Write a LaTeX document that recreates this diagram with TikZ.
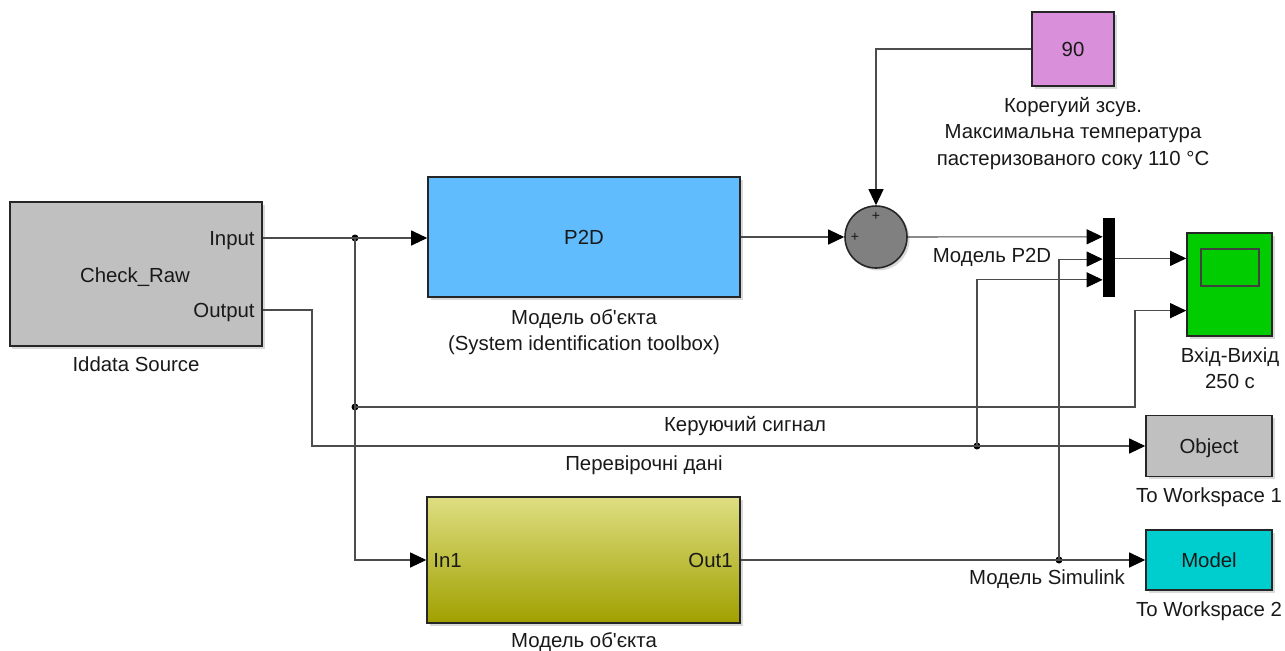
\documentclass[tikz,border=0pt]{standalone}
\usepackage{fontspec}
\setmainfont{Liberation Sans}
\usetikzlibrary{arrows.meta,shadows,calc}
\definecolor{srcgray}{RGB}{192,192,192}
\definecolor{p2dblue}{RGB}{96,188,252}
\definecolor{sumgray}{RGB}{128,128,128}
\definecolor{constpink}{RGB}{218,143,218}
\definecolor{scopegreen}{RGB}{0,204,0}
\definecolor{modelcyan}{RGB}{0,206,206}
\definecolor{subtop}{RGB}{222,222,130}
\definecolor{subbottom}{RGB}{160,160,0}
\begin{document}
\begin{tikzpicture}[%
  x=0.2mm, y=-0.2mm,
  font=\fontsize{11.6}{14.8}\selectfont,
  blockstyle/.style={%
    rectangle,
    draw=black!85,
    line width=0.9pt,
    inner sep=0pt,
    drop shadow={shadow xshift=0.5mm, shadow yshift=-0.5mm, opacity=0.3},
  },
  textstyle/.style={inner sep=0pt, text=black!90},
  linestyle/.style={draw=black!70, line width=0.6pt},
  arrowstyle/.style={linestyle, -{Triangle[length=3.2mm, width=3mm, color=black]}},
  dotstyle/.style={circle, fill=black, inner sep=0pt, minimum size=1.4mm},
]
  \useasboundingbox (0,0) rectangle (1285,650);

  \node [blockstyle, fill=srcgray, minimum width=50.4mm, minimum height=28.8mm] (src) at (136,274) {};
  \node [textstyle, anchor=base east] (srcinlbl) at (255,245) {Input};
  \node [textstyle, anchor=base] (srcname) at (135,282) {Check\_Raw};
  \node [textstyle, anchor=base east] (srcoutlbl) at (255,317) {Output};
  \node [textstyle, anchor=base] (srclbl) at (136,371) {Iddata Source};

  \node [blockstyle, fill=p2dblue, minimum width=62.4mm, minimum height=24mm] (p2d) at (584,237) {};
  \node [textstyle, anchor=base] (p2dname) at (584,244) {P2D};
  \node [textstyle, anchor=base, align=center] (p2dlbl) at (584,350) {Модель об\textquotesingle єкта\\(System identification toolbox)};

  \node [circle, draw=black!85, line width=0.9pt, fill=sumgray, minimum size=12.4mm, inner sep=0pt,
    drop shadow={shadow xshift=0.5mm, shadow yshift=-0.5mm, opacity=0.3}] (sum) at (876,237) {};
  \node [textstyle, font=\fontsize{8}{8}\selectfont] (plus1) at (876,216) {+};
  \node [textstyle, font=\fontsize{8}{8}\selectfont] (plus2) at (855,237) {+};

  \node [blockstyle, fill=constpink, minimum width=16.4mm, minimum height=14.8mm] (const) at (1073,49) {};
  \node [textstyle, anchor=base] (constval) at (1073,56) {90};
  \node [textstyle, anchor=base, align=center] (constlbl) at (1073,165) {Корегуий зсув.\\Максимальна температура\\пастеризованого соку 110 °C};

  \node [rectangle, fill=black, inner sep=0pt, minimum width=2.4mm, minimum height=15.8mm] (mux) at (1109,257.5) {};
  \coordinate (muxin1) at ($(mux.north west)!0.24!(mux.south west)$);
  \coordinate (muxin2) at ($(mux.north west)!0.52!(mux.south west)$);
  \coordinate (muxin3) at ($(mux.north west)!0.78!(mux.south west)$);
  \node [textstyle, anchor=base] (p2dsig) at (992,262) {Модель P2D};

  \node [blockstyle, fill=scopegreen, minimum width=17mm, minimum height=20.6mm] (scope) at (1229.5,284.5) {};
  \node [rectangle, draw=black!75, line width=0.6pt, fill=scopegreen, minimum width=11.6mm, minimum height=7.4mm] (screen) at (1230,267.5) {};
  \coordinate (scin1) at ($(scope.north west)!0.25!(scope.south west)$);
  \coordinate (scin2) at ($(scope.north west)!0.75!(scope.south west)$);
  \node [textstyle, anchor=base, align=center] (scopelbl) at (1230,388) {Вхід-Вихід\\250 с};

  \node [blockstyle, fill=srcgray, minimum width=25.2mm, minimum height=12.2mm] (obj) at (1209,446) {};
  \node [textstyle, anchor=base] (objname) at (1209,453) {Object};
  \node [textstyle, anchor=base] (objlbl) at (1209,502) {To Workspace 1};

  \node [blockstyle, fill=modelcyan, minimum width=25.2mm, minimum height=12mm] (model) at (1209,560) {};
  \node [textstyle, anchor=base] (modelname) at (1209,567) {Model};
  \node [textstyle, anchor=base] (modellbl) at (1209,616) {To Workspace 2};

  \node [blockstyle, top color=subtop, bottom color=subbottom, minimum width=62.6mm, minimum height=25.2mm] (sub) at (583.5,560) {};
  \node [textstyle, anchor=base west] (subin) at (433,567) {In1};
  \node [textstyle, anchor=base east] (subout) at (733,567) {Out1};
  \node [textstyle, anchor=base] (sublbl) at (584,647) {Модель об\textquotesingle єкта};

  \coordinate (srcin) at (src.east |- 0,238);
  \coordinate (srcout) at (src.east |- 0,310);
  \coordinate (c1) at (1135,407);
  \coordinate (c2) at (312,446);
  \node [dotstyle] (b1) at (355,238) {};
  \node [dotstyle] (b2) at (355,407) {};
  \node [dotstyle] (b3) at (977,446) {};
  \node [dotstyle] (b4) at (1059,560) {};

  \draw [arrowstyle] (srcin) -- (p2d.west |- srcin);
  \draw [arrowstyle] (b1.center) |- (sub.west);
  \draw [arrowstyle] (b2.center) -- (c1) |- (scin2);
  \draw [arrowstyle] (srcout) -| (c2) -- (obj.west);
  \draw [arrowstyle] (b3.center) |- (muxin3);
  \draw [arrowstyle] (b4.center) |- (muxin2);
  \draw [arrowstyle] (sub.east) -- (model.west);
  \draw [arrowstyle] (p2d.east) -- (sum.west);
  \draw [arrowstyle] (const.west) -| (sum.north);
  \draw [arrowstyle] (sum.east) -- (muxin1);
  \draw [arrowstyle] (mux.east |- scin1) -- (scin1);

  \node [textstyle, anchor=base] (ctrllbl) at (745,431) {Керуючий сигнал};
  \node [textstyle, anchor=base] (checklbl) at (644,470) {Перевірочні дані};
  \node [textstyle, anchor=base] (simlbl) at (1047,584) {Модель Simulink};
\end{tikzpicture}
\end{document}
